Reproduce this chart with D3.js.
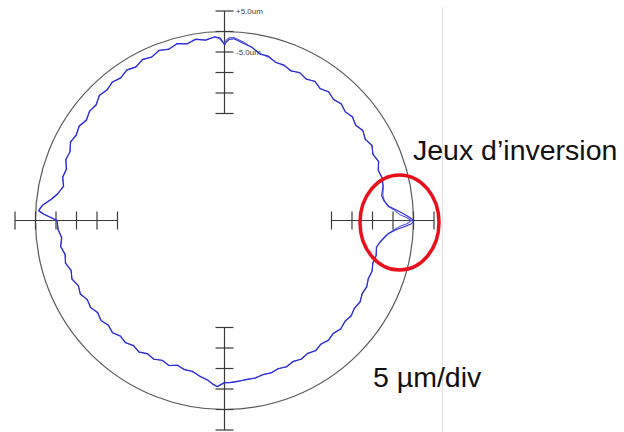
<!DOCTYPE html>
<html>
<head>
<meta charset="utf-8">
<script src="https://cdn.jsdelivr.net/npm/d3@7"></script>
<style>
  body { margin: 0; background: #fff; }
  svg { display: block; font-family: "Liberation Sans", Arial, sans-serif; }
</style>
</head>
<body>
<svg id="polar" width="624" height="432"></svg>
<script>
// angle in degrees, counter-clockwise from 3 o'clock
var angles = [0, 1, 2, 3.5, 5, 7, 9,
  12, 15, 18, 21, 24, 27, 30, 33, 36, 39, 42, 45, 48, 51, 54, 57, 60, 63, 66, 69, 72, 75, 78, 81, 84,
  87, 88.5, 89.3, 90, 90.7, 91.5,
  93, 96, 99, 102, 105, 108, 111, 114, 117, 120, 123, 126, 129, 132, 135, 138, 141, 144, 147, 150, 153, 156, 159, 162, 165, 168, 171,
  173, 175, 176, 177, 178, 179, 180,
  183, 186, 189, 192, 195, 198, 201, 204, 207, 210, 213, 216, 219, 222, 225, 228, 231, 234, 237, 240, 243, 246, 249, 252, 255, 258, 261, 264,
  266, 267.5, 269, 270, 272,
  275, 278, 281, 284, 287, 290, 293, 296, 299, 302, 305, 308, 311, 314, 317, 320, 323, 326, 329, 332, 335, 338, 341, 344, 347, 350,
  352, 354, 355.5, 357, 358, 359]

// radial deviation in um, forward run
var forwardDev = [0.1, -1.0, -2.2, -4.1, -5.9, -6.9, -7.3,
  -6.6, -6.2, -6.7, -5.8, -6.5, -5.7, -6.5, -5.8, -6.6, -5.9, -6.5, -5.8, -6.4, -5.7, -6.4, -5.6, -6.3, -5.6, -6.2, -5.5, -5.6, -4.6, -4.6, -3.3, -2.6,
  -1.7, -1.9, -2.5, -3.3, -2.3, -1.5,
  -1.2, -1.9, -1.3, -2.1, -1.4, -2.2, -1.6, -2.5, -2.0, -2.9, -2.3, -3.1, -2.6, -3.3, -2.9, -4.0, -3.7, -4.5, -3.8, -4.4, -3.9, -4.9, -4.6, -5.6, -5.2, -6.0, -4.8,
  -3.5, -1.7, -1.1, -0.7, -2.0, -3.7, -5.3,
  -5.4, -6.2, -5.6, -6.4, -5.9, -6.8, -6.2, -7.1, -6.6, -7.5, -7.1, -7.9, -7.3, -8.0, -7.4, -8.2, -7.7, -8.4, -7.8, -8.6, -8.1, -8.8, -8.2, -9.0, -8.4, -8.5, -7.6, -7.0,
  -6.0, -5.5, -6.2, -6.6, -6.5,
  -6.7, -7.0, -6.9, -7.4, -7.2, -7.7, -7.3, -7.9, -7.4, -7.9, -7.3, -7.9, -7.4, -7.9, -7.3, -7.8, -7.4, -7.9, -7.5, -8.1, -7.8, -8.3, -8.0, -8.5, -8.1, -8.5,
  -7.8, -6.8, -5.9, -4.1, -2.2, -0.5]

// radial deviation in um, reverse run
var reverseDev = [-0.5, -1.8, -3.4, -4.6, -6.1, -6.8, -7.0,
  -6.5, -6.3, -6.6, -5.9, -6.4, -5.8, -6.4, -5.9, -6.5, -6.0, -6.4, -5.9, -6.3, -5.8, -6.3, -5.7, -6.2, -5.7, -6.1, -5.6, -5.5, -4.8, -4.5, -3.4, -2.3,
  -1.4, -1.5, -2.0, -2.9, -2.6, -1.8,
  -1.3, -1.8, -1.4, -2.0, -1.5, -2.1, -1.7, -2.4, -2.1, -2.8, -2.4, -3.0, -2.7, -3.2, -3.0, -3.9, -3.8, -4.4, -3.9, -4.3, -4.0, -4.8, -4.7, -5.5, -5.3, -5.9, -4.9,
  -3.6, -1.8, -1.2, -0.8, -2.1, -3.8, -5.2,
  -5.5, -6.1, -5.7, -6.3, -6.0, -6.7, -6.3, -7.0, -6.7, -7.4, -7.2, -7.8, -7.4, -7.9, -7.5, -8.1, -7.8, -8.3, -7.9, -8.5, -8.2, -8.7, -8.3, -8.9, -8.5, -8.4, -7.7, -6.9,
  -6.1, -5.6, -6.1, -6.5, -6.6,
  -6.8, -6.9, -7.0, -7.3, -7.3, -7.6, -7.4, -7.8, -7.5, -7.8, -7.4, -7.8, -7.5, -7.8, -7.4, -7.7, -7.5, -7.8, -7.6, -8.0, -7.9, -8.2, -8.1, -8.4, -8.2, -8.4,
  -7.9, -7.0, -6.0, -4.6, -3.4, -1.6]

var tickValues = [5, 0, -5, -10, -15, -20]
var scaleLabels = ["+5.0um", "-5.0um"]
var noteLabels = ["Jeux d\u2019inversion", "5 \u00b5m/div"]

var svg = d3.select("#polar")
var cx = 224.5, cy = 220.5

var r = d3.scaleLinear().domain([0, 5]).range([189, 209.5])
var ang = d3.scaleLinear().domain([0, 360]).range([Math.PI / 2, Math.PI / 2 - 2 * Math.PI])

// faint frame line on the right
svg.append("line")
    .attr("x1", 442.5).attr("x2", 442.5)
    .attr("y1", 7).attr("y2", 432)
    .attr("stroke", "#e2e2e2")
    .attr("stroke-width", 1)

var g = svg.append("g").attr("transform", "translate(" + cx + "," + cy + ")")

// nominal circle
g.append("circle")
    .attr("r", r(0))
    .attr("fill", "none")
    .attr("stroke", "#5a5a5a")
    .attr("stroke-width", 1.2)

// four scale bars
var dirs = [0, 90, 180, 270]
dirs.forEach(function (a) {
    var rad = a * Math.PI / 180
    var ux = Math.cos(rad), uy = -Math.sin(rad)
    var axis = g.append("g").attr("class", "scale-bar")
    axis.append("line")
        .attr("x1", ux * r(tickValues[0])).attr("y1", uy * r(tickValues[0]))
        .attr("x2", ux * r(tickValues[tickValues.length - 1])).attr("y2", uy * r(tickValues[tickValues.length - 1]))
        .attr("stroke", "#3a3a3a")
        .attr("stroke-width", 1.2)
    axis.selectAll("line.tick")
        .data(tickValues)
        .enter().append("line")
        .attr("class", "tick")
        .attr("x1", d => ux * r(d) - uy * 9).attr("y1", d => uy * r(d) + ux * 9)
        .attr("x2", d => ux * r(d) + uy * 9).attr("y2", d => uy * r(d) - ux * 9)
        .attr("stroke", "#3a3a3a")
        .attr("stroke-width", 1.2)
})

// um labels on the top bar
g.selectAll("text.um")
    .data(scaleLabels)
    .enter().append("text")
    .attr("class", "um")
    .attr("x", 11.5)
    .attr("y", (d, i) => -r(i === 0 ? 5 : -5) + 3)
    .attr("font-size", 8)
    .attr("fill", "#444")
    .text(d => d)

var line = d3.lineRadial()
    .angle(d => ang(d[0]))
    .radius(d => r(d[1]))
    .curve(d3.curveLinearClosed)

var runs = [reverseDev, forwardDev]
var runColors = ["#5a5ae6", "#2a2ad4"]
runs.forEach(function (dev, k) {
    g.append("path")
        .datum(angles.map((a, i) => [a, dev[i]]))
        .attr("d", line)
        .attr("fill", "none")
        .attr("stroke", runColors[k])
        .attr("stroke-width", 1.1)
        .attr("stroke-linejoin", "round")
})

// red highlight ellipse around the reversal spike
svg.append("ellipse")
    .attr("cx", 399.5).attr("cy", 222.5)
    .attr("rx", 39.5).attr("ry", 47.5)
    .attr("fill", "none")
    .attr("stroke", "#e8101a")
    .attr("stroke-width", 3.5)

svg.append("text")
    .attr("x", 413).attr("y", 160)
    .attr("font-size", 28.5)
    .attr("fill", "#111")
    .text(noteLabels[0])

svg.append("text")
    .attr("x", 373).attr("y", 387)
    .attr("font-size", 28.5)
    .attr("fill", "#111")
    .text(noteLabels[1])
</script>
</body>
</html>
